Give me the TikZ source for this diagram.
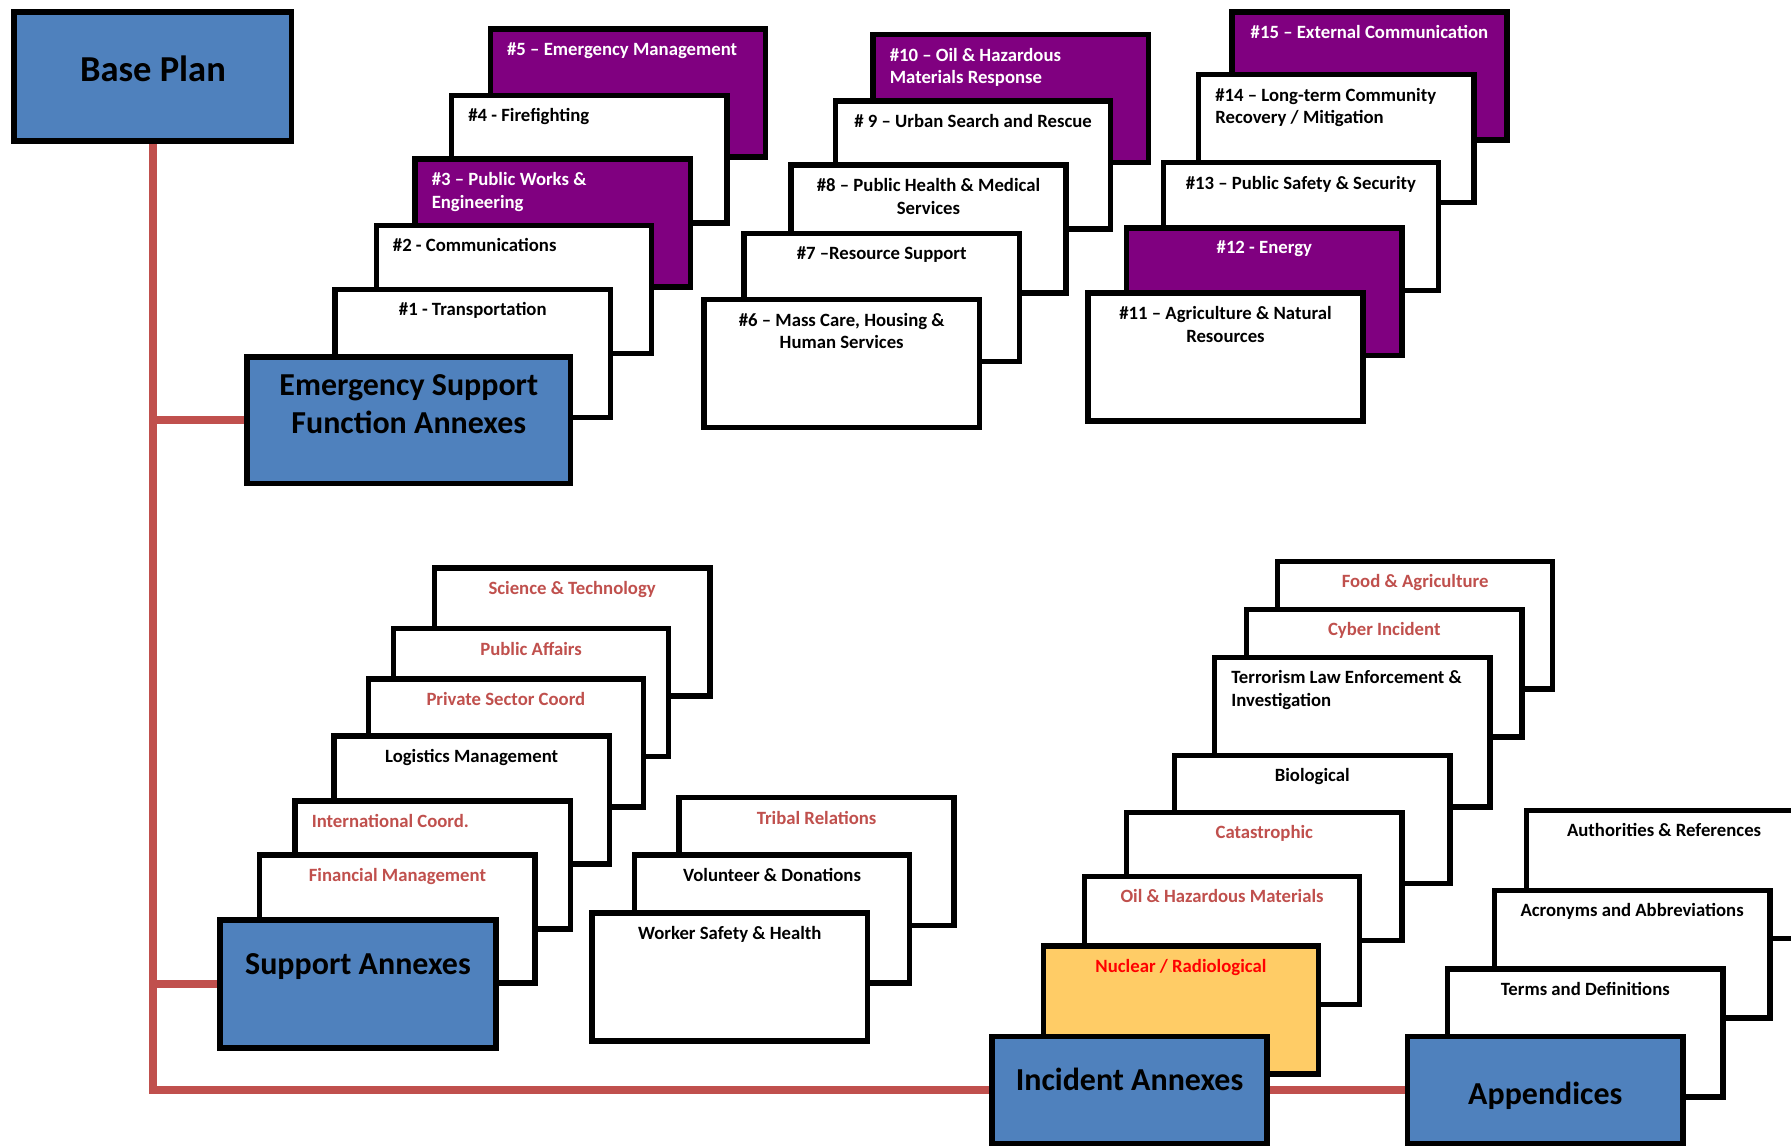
\documentclass[tikz,border=0pt]{standalone}
\usepackage{fontspec}
\setmainfont{Carlito}
\usetikzlibrary{positioning,backgrounds}
\definecolor{planblue}{HTML}{4F81BD}
\definecolor{esfpurple}{HTML}{800080}
\definecolor{linkred}{HTML}{C0504D}
\definecolor{nucyellow}{HTML}{FFCC66}
\definecolor{nucred}{HTML}{FF0000}
\tikzset{
    card/.style={draw, line width=2.4pt, fill=white, anchor=north west, inner sep=0pt,
        minimum width=120.5pt, minimum height=56pt},
    purplecard/.style={card, fill=esfpurple},
    bluebox/.style={card, fill=planblue},
    cardtext/.style={font=\bfseries\fontsize{8.2}{10}\selectfont, align=center, inner sep=0pt,
        anchor=north, yshift=-6.8pt},
    cardtextl/.style={cardtext, align=left, anchor=north west, xshift=8.3pt},
    bigtext/.style={font=\bfseries\fontsize{14}{16.5}\selectfont, align=center, inner sep=0pt},
    link/.style={draw=linkred, line width=3.6pt},
}

\begin{document}
\begin{tikzpicture}[x=0.5pt, y=-0.5pt]
  \useasboundingbox (0,0) rectangle (1568,1003);
  \clip (0,0) rectangle (1568,1003);

  \node[bluebox, minimum width=121.5pt, minimum height=56.5pt,
      label={[bigtext, font=\bfseries\fontsize{16}{19}\selectfont, yshift=3.5pt]center:Base Plan}] (base) at (10,8) {};

  % ESF annexes, back to front
  \node[purplecard, label={[cardtextl, text=white]north west:{\#5 – Emergency Management}}] (esf5) at (427,23) {};
  \node[card, label={[cardtextl]north west:{\#4 - Firefighting}}] (esf4) at (393,81) {};
  \node[purplecard, label={[cardtextl, text=white]north west:{\#3 – Public Works \&\\Engineering}}] (esf3) at (361,137) {};
  \node[card, label={[cardtextl]north west:{\#2 - Communications}}] (esf2) at (327,195) {};
  \node[card, label={[cardtext]north:{\#1 - Transportation}}] (esf1) at (291,251) {};
  \node[bluebox, minimum width=141.5pt, minimum height=55.5pt,
      label={[bigtext, yshift=7pt]center:{Emergency Support\\Function Annexes}}] (esfbox) at (214,310) {};

  \node[purplecard, label={[cardtextl, text=white]north west:{\#10 – Oil \& Hazardous\\Materials Response}}] (esf10) at (762,28) {};
  \node[card, label={[cardtext]north:{\# 9 – Urban Search and Rescue}}] (esf9) at (729,86) {};
  \node[card, label={[cardtext]north:{\#8 – Public Health \& Medical\\Services}}] (esf8) at (690,142) {};
  \node[card, label={[cardtext]north:{\#7 –Resource Support}}] (esf7) at (649,202) {};
  \node[card, label={[cardtext]north:{\#6 – Mass Care, Housing \&\\Human Services}}] (esf6) at (614,260) {};

  \node[purplecard, label={[cardtext, text=white]north:{\#15 – External Communication}}] (esf15) at (1076,8) {};
  \node[card, label={[cardtextl]north west:{\#14 – Long-term Community\\Recovery / Mitigation}}] (esf14) at (1047,63) {};
  \node[card, label={[cardtext]north:{\#13 – Public Safety \& Security}}] (esf13) at (1016,140) {};
  \node[purplecard, label={[cardtext, text=white]north:{\#12 - Energy}}] (esf12) at (984,197) {};
  \node[card, label={[cardtext]north:{\#11 – Agriculture \& Natural\\Resources}}] (esf11) at (950,254) {};

  % support annexes
  \node[card, label={[cardtext, text=linkred]north:{Science \& Technology}}] (scitech) at (378,495) {};
  \node[card, label={[cardtext, text=linkred]north:{Public Affairs}}] (pubaff) at (342,548) {};
  \node[card, label={[cardtext, text=linkred]north:{Private Sector Coord}}] (privsec) at (320,592) {};
  \node[card, label={[cardtext]north:{Logistics Management}}] (logmgmt) at (290,642) {};
  \node[card, label={[cardtextl, text=linkred]north west:{International Coord.}}] (intcoord) at (256,699) {};
  \node[card, label={[cardtext, text=linkred]north:{Financial Management}}] (finmgmt) at (225,746) {};
  \node[bluebox, minimum width=121pt,
      label={[bigtext, yshift=7.5pt]center:Support Annexes}] (supbox) at (190,803) {};

  \node[card, label={[cardtext, text=linkred]north:{Tribal Relations}}] (tribal) at (592,696) {};
  \node[card, label={[cardtext]north:{Volunteer \& Donations}}] (volunt) at (553,746) {};
  \node[card, label={[cardtext]north:{Worker Safety \& Health}}] (worker) at (516,797) {};

  % incident annexes
  \node[card, label={[cardtext, text=linkred]north:{Food \& Agriculture}}] (food) at (1116,489) {};
  \node[card, label={[cardtext, text=linkred]north:{Cyber Incident}}] (cyber) at (1089,531) {};
  \node[card, minimum height=65.5pt,
      label={[cardtextl]north west:{Terrorism Law Enforcement \&\\Investigation}}] (terror) at (1061,573) {};
  \node[card, label={[cardtext]north:{Biological}}] (bio) at (1026,659) {};
  \node[card, label={[cardtext, text=linkred]north:{Catastrophic}}] (catas) at (984,709) {};
  \node[card, label={[cardtext, text=linkred]north:{Oil \& Hazardous Materials}}] (oilhaz) at (947,765) {};
  \node[card, fill=nucyellow, label={[cardtext, text=nucred]north:{Nuclear / Radiological}}] (nuclear) at (911,826) {};
  \node[bluebox, minimum height=47pt,
      label={[bigtext, yshift=4.5pt]center:Incident Annexes}] (incbox) at (866,905) {};

  % appendices
  \node[card, label={[cardtext]north:{Authorities \& References}}] (authref) at (1334,707) {};
  \node[card, label={[cardtext]north:{Acronyms and Abbreviations}}] (acronym) at (1306,777) {};
  \node[card, label={[cardtext]north:{Terms and Definitions}}] (termdef) at (1265,846) {};
  \node[bluebox, minimum height=47pt,
      label={[bigtext, yshift=-2.5pt]center:Appendices}] (appbox) at (1230,905) {};

  \begin{scope}[on background layer]
    \draw[link] (base.south) |- (incbox.west);
    \draw[link] (base.south |- esfbox.west) -- (esfbox.west);
    \draw[link] (base.south |- supbox.west) -- (supbox.west);
    \draw[link] (incbox.east) -- (appbox.west);
  \end{scope}
\end{tikzpicture}
\end{document}
